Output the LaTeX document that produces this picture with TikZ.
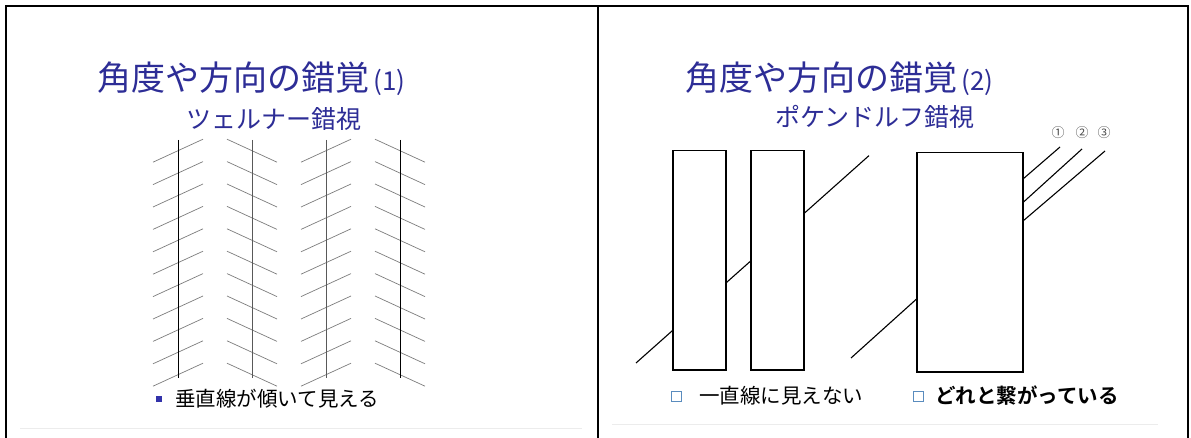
\documentclass[tikz,border=0pt]{standalone}
\usepackage{fontspec}
\newfontfamily\jp{Noto Sans CJK JP}[BoldFont={Noto Sans CJK JP Bold}]
\definecolor{ttl}{RGB}{45,45,150}
\definecolor{bul}{RGB}{50,50,170}
\definecolor{boxc}{RGB}{90,140,190}
\definecolor{hatchc}{RGB}{125,125,125}
\begin{document}
\begin{tikzpicture}[x=1pt,y=-1pt,
  frame/.style={line width=2.2pt,black},
  ttlnode/.style={anchor=west,inner sep=0pt,text=ttl,font=\jp\fontsize{34}{40}\selectfont},
  subnode/.style={anchor=west,inner sep=0pt,text=ttl,font=\jp\fontsize{25}{30}\selectfont},
  bodytext/.style={anchor=west,inner sep=0pt,text=black,font=\jp\fontsize{20.5}{24}\selectfont},
  hatchline/.style={hatchc,line width=0.7pt},
  figline/.style={black,line width=1.1pt},
  numlabel/.style={inner sep=0pt,text=black!70,font=\jp\fontsize{13}{15}\selectfont}]
\useasboundingbox (0,0) rectangle (1191,438);
\fill[white] (0,0) rectangle (1191,438);
% frame
\draw[frame] (6,438) -- (6,6) -- (1188,6) -- (1188,438);
\draw[frame] (598,6) -- (598,438);
\draw[gray!15] (20,428) -- (582,428);
\draw[gray!15] (612,424) -- (1158,424);
% titles
\node[ttlnode] (t1) at (97,79) {角度や方向の錯覚{\fontsize{26}{30}\selectfont\,(1)}};
\node[subnode] (s1) at (186,119) {ツェルナー錯視};
\node[ttlnode] (t2) at (685,79) {角度や方向の錯覚{\fontsize{26}{30}\selectfont\,(2)}};
\node[subnode] (s2) at (775,117) {ポケンドルフ錯視};
% Zoellner illusion
\foreach \x/\d in {178/1,252/-1,326/1,400/-1} {
  \foreach \k in {0,...,10} {
    \draw[hatchline] ({\x-25},{150.7+22.4*\k+11.5*\d}) -- ({\x+25},{150.7+22.4*\k-11.5*\d});
  }
}
\foreach \x/\c in {178/black,252/black!65,326/black!65,400/black} {
  \draw[\c,line width=1pt] (\x,140) -- (\x,378);
}
\node[fill=bul,inner sep=0pt,minimum size=6pt] (b1) at (159,399) {};
\node[bodytext] (bt1) at (175,399) {垂直線が傾いて見える};
% Poggendorff illusion
\draw[figline] (673,150.7) rectangle (726,370);
\draw[figline] (751,150.7) rectangle (804,370);
\draw[figline] (917,152.7) rectangle (1023,372);
\draw[figline] (636,363) -- (673,330.1);
\draw[figline] (726,282.9) -- (751,260.7);
\draw[figline] (804,213.5) -- (869,155.6);
\draw[figline] (851,358) -- (917,298.6);
\draw[figline] (1023,179) -- (1060,147);
\draw[figline] (1023,202.5) -- (1082,149);
\draw[figline] (1023,221) -- (1105,151);
\node[numlabel] (n1) at (1058,133) {①};
\node[numlabel] (n2) at (1082,133) {②};
\node[numlabel] (n3) at (1104,133) {③};
\node[draw=boxc,line width=1pt,inner sep=0pt,minimum size=10pt] (b2) at (676,396) {};
\node[bodytext] (bt2) at (699,396) {一直線に見えない};
\node[draw=boxc,line width=1pt,inner sep=0pt,minimum size=10pt] (b3) at (918,396) {};
\node[bodytext,font=\jp\bfseries\fontsize{20.5}{24}\selectfont] (bt3) at (935,396) {どれと繋がっている};
\end{tikzpicture}
\end{document}
